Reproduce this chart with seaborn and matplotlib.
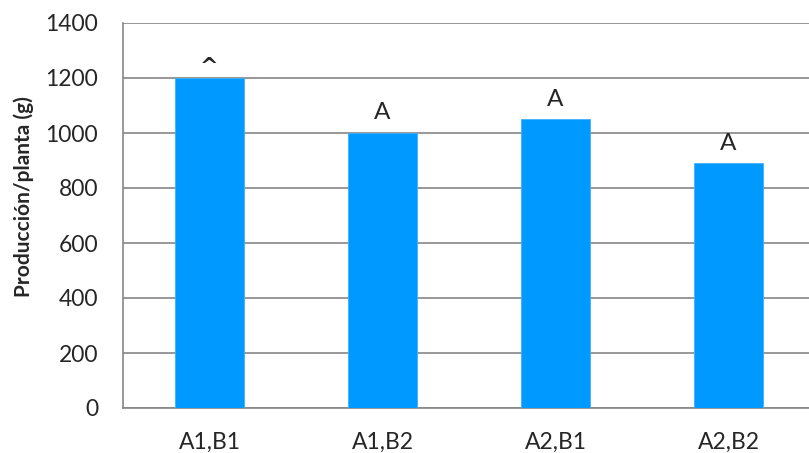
import matplotlib
matplotlib.use("Agg")
import matplotlib.pyplot as plt
import seaborn as sns
import pandas as pd

categories = ["A1,B1", "A1,B2", "A2,B1", "A2,B2"]
values = [1200, 1000, 1050, 890]
letters = ["^", "A", "A", "A"]
yticks = [0, 200, 400, 600, 800, 1000, 1200, 1400]

sns.set_style("white")
plt.rcParams['font.family'] = ['Lato', 'DejaVu Sans']

df = pd.DataFrame({"cat": categories, "val": values})

fig = plt.figure(figsize=(8.09, 4.53), dpi=100)
ax = fig.add_axes([123/809, 45/453, 692/809, 385/453])
sns.barplot(data=df, x="cat", y="val", color="#0099FF", width=0.4,
            saturation=1, ax=ax, edgecolor="#40B0FF", linewidth=0.6, zorder=3)

ax.set_xlim(-0.5, 3.5)
ax.set_ylim(0, 1400)
ax.set_yticks(yticks)
ax.set_yticklabels([str(t) for t in yticks], fontsize=16.5)
ax.yaxis.grid(True, color="#868686", linewidth=1.2, zorder=0)
ax.set_axisbelow(True)

ax.set_xticks([-0.5, 0.5, 1.5, 2.5, 3.5])
ax.set_xticklabels([])
ax.set_xticks(range(len(categories)), minor=True)
ax.set_xticklabels(categories, minor=True, fontsize=16.5)
ax.tick_params(axis="x", which="major", direction="out", length=6, width=1.2, color="#868686")
ax.tick_params(axis="x", which="minor", length=0, pad=17)
ax.tick_params(axis="y", direction="out", length=6, width=1.2, color="#868686", pad=12)

for s in ["top", "right"]:
    ax.spines[s].set_visible(False)
for s in ["left", "bottom"]:
    ax.spines[s].set_color("#868686")
    ax.spines[s].set_linewidth(1.2)

ax.set_xlabel("")
ax.set_ylabel("Producción/planta (g)", fontsize=15, fontweight="bold")
ax.yaxis.set_label_coords(-0.128, 0.55)

for i, (v, t) in enumerate(zip(values, letters)):
    if t == "^":
        ax.annotate(t, (i, v), xytext=(0, 1), textcoords="offset points",
                    ha="center", va="bottom", fontsize=16, fontweight="bold",
                    family="DejaVu Sans")
    else:
        ax.annotate(t, (i, v), xytext=(0, 7), textcoords="offset points",
                    ha="center", va="bottom", fontsize=17.5)

fig.savefig("out.png", dpi=100)
